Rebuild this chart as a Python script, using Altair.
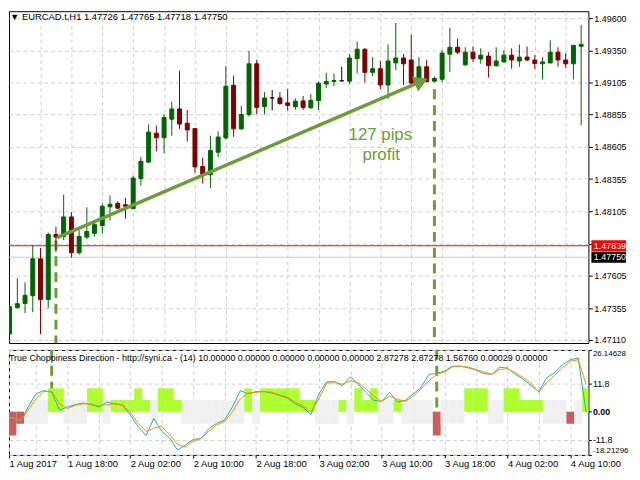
import json
import altair as alt
import pandas as pd

# ---------------- data ----------------
bars = list(range(75))  # hourly bars, 1 Aug 2017 10:00 ... 4 Aug 2017 12:00

opens = [1.47157, 1.47361, 1.47393, 1.47453, 1.47738, 1.47423, 1.47926, 1.47911, 1.48062, 1.47785,
         1.47906, 1.47936, 1.47996, 1.48140, 1.48167, 1.48156, 1.48127, 1.48358, 1.48486, 1.48710,
         1.48675, 1.48818, 1.48897, 1.48786, 1.48746, 1.48452, 1.48388, 1.48562, 1.48673, 1.49080,
         1.48743, 1.48854, 1.49246, 1.48916, 1.48982, 1.48982, 1.48944, 1.48914, 1.48959, 1.48906,
         1.48961, 1.49090, 1.49110, 1.49115, 1.49112, 1.49286, 1.49359, 1.49180, 1.49208, 1.49082,
         1.49253, 1.49291, 1.49276, 1.49110, 1.49223, 1.49112, 1.49127, 1.49321, 1.49374, 1.49238,
         1.49336, 1.49283, 1.49306, 1.49231, 1.49261, 1.49313, 1.49268, 1.49298, 1.49276, 1.49246,
         1.49253, 1.49336, 1.49276, 1.49246, 1.49381]
highs = [1.47383, 1.47587, 1.47557, 1.47841, 1.47821, 1.47941, 1.47986, 1.48235, 1.48100, 1.47959,
         1.48137, 1.48029, 1.48167, 1.48228, 1.48182, 1.48210, 1.48381, 1.48527, 1.48778, 1.48768,
         1.48854, 1.48952, 1.49193, 1.48889, 1.48750, 1.48520, 1.48690, 1.48725, 1.49228, 1.49155,
         1.48921, 1.49346, 1.49278, 1.49027, 1.49042, 1.49027, 1.49050, 1.48978, 1.48997, 1.49012,
         1.49108, 1.49176, 1.49170, 1.49223, 1.49321, 1.49419, 1.49366, 1.49298, 1.49268, 1.49396,
         1.49562, 1.49321, 1.49472, 1.49298, 1.49276, 1.49148, 1.49351, 1.49525, 1.49442, 1.49374,
         1.49381, 1.49366, 1.49336, 1.49374, 1.49351, 1.49366, 1.49396, 1.49381, 1.49313, 1.49298,
         1.49427, 1.49374, 1.49329, 1.49389, 1.49547]
lows = [1.47149, 1.47353, 1.47318, 1.47325, 1.47157, 1.47355, 1.47790, 1.47883, 1.47747, 1.47770,
        1.47891, 1.47911, 1.47934, 1.48034, 1.48122, 1.48049, 1.48122, 1.48305, 1.48480, 1.48569,
        1.48554, 1.48690, 1.48743, 1.48645, 1.48403, 1.48320, 1.48286, 1.48524, 1.48660, 1.48682,
        1.48735, 1.48838, 1.48854, 1.48854, 1.48886, 1.48929, 1.48886, 1.48891, 1.48889, 1.48899,
        1.48889, 1.49059, 1.49074, 1.49108, 1.49090, 1.49172, 1.49102, 1.49150, 1.49052, 1.48976,
        1.49195, 1.49082, 1.49090, 1.49072, 1.49102, 1.49102, 1.49105, 1.49185, 1.49321, 1.49230,
        1.49261, 1.49246, 1.49140, 1.49225, 1.49255, 1.49208, 1.49223, 1.49268, 1.49208, 1.49125,
        1.49250, 1.49223, 1.49215, 1.49125, 1.48771]
closes = [1.47368, 1.47391, 1.47456, 1.47738, 1.47423, 1.47926, 1.47906, 1.48062, 1.47785, 1.47911,
          1.47949, 1.48002, 1.48145, 1.48160, 1.48130, 1.48145, 1.48363, 1.48492, 1.48718, 1.48675,
          1.48831, 1.48897, 1.48780, 1.48735, 1.48449, 1.48394, 1.48575, 1.48680, 1.49072, 1.48743,
          1.48854, 1.49246, 1.48909, 1.48982, 1.48982, 1.48939, 1.48924, 1.48957, 1.48909, 1.48964,
          1.49095, 1.49110, 1.49117, 1.49115, 1.49291, 1.49359, 1.49180, 1.49208, 1.49082, 1.49268,
          1.49291, 1.49246, 1.49097, 1.49223, 1.49110, 1.49133, 1.49329, 1.49374, 1.49336, 1.49336,
          1.49286, 1.49313, 1.49233, 1.49268, 1.49313, 1.49276, 1.49298, 1.49276, 1.49248, 1.49261,
          1.49336, 1.49276, 1.49246, 1.49389, 1.49396]

teal_line = [-2.07, -2.77, -4.55, 2.07, 7.56, 8.97, 8.26, 0.70, 2.07, 3.02,
             3.72, 3.02, 2.07, 4.13, 3.43, 2.77, -1.36, -6.20, -10.04, -2.77,
             -8.26, -11.03, -16.12, -14.05, -11.69, -11.28, -7.15, -4.83, -3.43, 2.07,
             8.97, 7.56, 8.55, 8.55, 7.98, 6.90, 5.79, 3.43, 1.78, -1.12,
             7.56, 12.69, 12.69, 11.03, 14.75, 11.69, 8.26, 4.83, 4.42, 8.26,
             4.13, 4.83, 7.56, 10.33, 15.83, 16.24, 17.23, 19.30, 19.30, 18.60,
             17.64, 16.12, 15.83, 18.88, 18.47, 15.83, 13.76, 11.03, 8.55, 14.46,
             16.53, 19.96, 22.02, 22.73, 0.00]
orange_line = [-2.07, -2.48, -3.72, 0.70, 5.50, 8.55, 8.68, 3.43, 1.36, 2.77,
               3.43, 3.31, 2.48, 3.02, 3.43, 3.02, -0.29, -4.83, -8.26, -6.90,
               -6.20, -9.63, -13.76, -14.88, -12.40, -11.28, -8.26, -5.50, -4.13, 0.00,
               5.50, 7.98, 8.26, 8.55, 8.26, 7.15, 6.20, 4.13, 2.48, 0.00,
               5.50, 12.11, 12.40, 11.69, 13.10, 12.40, 9.63, 6.61, 4.42, 6.61,
               5.25, 4.42, 6.61, 9.63, 13.10, 15.83, 16.82, 19.01, 19.30, 18.88,
               17.89, 16.82, 15.83, 17.89, 18.18, 16.53, 14.46, 12.11, 8.26, 12.40,
               15.41, 18.60, 21.36, 22.02, 11.69]

# histogram: G = up (green), R = down (red), N = neutral (grey, both sides)
hist_codes = ["R10", "R10", "R5", "N", "N", "N", "G10", "G10", "N", "N",
              "N", "G10", "G10", "N", "G5", "G5", "G5", "G10", "G5", "N",
              "G10", "G10", "G5", "N", "N", "N", "N", "N", "N", "N",
              "N", "G10", "N", "G10", "G10", "G10", "G10", "G10", "G5", "G5",
              "N", "N", "N", "G5", "N", "G10", "G5", "G10", "N", "N",
              "G5", "N", "N", "N", "N", "R10", "N", "N", "N", "G10",
              "G10", "G10", "N", "N", "G10", "G10", "G5", "G5", "G5", "N",
              "N", "N", "R5", "N", "G10"]

x_labels = ["1 Aug 2017", "1 Aug 18:00", "2 Aug 02:00", "2 Aug 10:00", "2 Aug 18:00",
            "3 Aug 02:00", "3 Aug 10:00", "3 Aug 18:00", "4 Aug 02:00", "4 Aug 10:00"]
grid_bars = list(range(4, 73, 4))
price_ticks = [1.49600, 1.49350, 1.49105, 1.48855, 1.48605, 1.48355, 1.48105,
               1.47855, 1.47605, 1.47355, 1.47110]
hidden_price_tick = 1.47855
ind_ticks = [26.14628, 11.8, 0.0, -11.8, -18.21296]

level_prices = [1.47839, 1.47750]
level_kinds = ["line", "bid"]

arrow_bars = [6.15, 53.31]
arrow_prices = [1.47902, 1.49110]
marker_bars = [6, 55]
marker_prices = [1.47880, 1.49049]
note_text = ["127 pips", "profit"]
note_bars = [48.0, 48.1]
note_prices = [1.48695, 1.48544]

header = "\u25BC EURCAD.t,H1  1.47726 1.47765 1.47718 1.47750"
ind_title = ("True Choppiness Direction - http://syni.ca - (14) 10.00000 0.00000 0.00000 "
             "0.00000 0.00000 2.87278 2.87278 1.56760 0.00029 0.00000")

# ---------------- layout & style ----------------
MAIN_W, MAIN_H, IND_H = 585, 335, 106
X_LO, X_HI = 0.5625, 74.3
P_LO, P_HI = 1.47087, 1.49653
I_LO, I_HI = -18.21296, 26.14628

GREEN, RED = "#006400", "#800000"
OLIVE = "#6b9d3b"
GRID = "#cfcfcf"
FS = 9

xs = alt.Scale(domain=[X_LO, X_HI], nice=False, zero=False)
ys = alt.Scale(domain=[P_LO, P_HI], nice=False, zero=False)
iys = alt.Scale(domain=[I_LO, I_HI], nice=False, zero=False)

candles = pd.DataFrame({"k": bars, "open": opens, "high": highs, "low": lows, "close": closes})
levels = pd.DataFrame({"price": level_prices, "kind": level_kinds})
arrow = pd.DataFrame({"k": arrow_bars, "price": arrow_prices})
head = arrow.tail(1)
markers = pd.DataFrame({"k": marker_bars, "top": marker_prices})
notes = pd.DataFrame({"k": note_bars, "price": note_prices, "t": note_text})
ind = pd.DataFrame({"k": bars, "teal": teal_line, "orange": orange_line, "code": hist_codes})

# ---------------- main price panel ----------------
x_axis_main = alt.Axis(values=grid_bars, tickCount=200, grid=True, gridDash=[4, 3],
                       gridColor=GRID, labels=False, ticks=False, domain=False, title=None)
y_axis_main = alt.Axis(orient="right", values=price_ticks, tickCount=200, grid=True,
                       gridDash=[4, 3], gridColor=GRID, tickSize=4, tickColor="black",
                       domain=False, labelPadding=1.5, labelFontSize=FS, labelColor="black",
                       labelOverlap=False, title=None,
                       labelExpr=f"abs(datum.value - {hidden_price_tick}) < 0.0000001 ? '' : format(datum.value, '.5f')")

cscale = alt.Scale(domain=["up", "down", "doji"], range=[GREEN, RED, "#000000"])
dir_expr = "datum.close > datum.open ? 'up' : (datum.close < datum.open ? 'down' : 'doji')"
cbase = alt.Chart(candles).transform_calculate(dir=dir_expr)

level_lines = alt.Chart(levels).mark_rule(strokeWidth=1).encode(
    y=alt.Y("price:Q", scale=ys),
    color=alt.condition("datum.kind == 'line'", alt.value("#ff0000"), alt.value("#c8c8c8")),
)
dashed_main = alt.Chart(markers).transform_calculate(bottom=f"{P_LO}").mark_rule(
    strokeWidth=3, strokeDash=[10, 6], color=OLIVE, clip=True).encode(
    x=alt.X("k:Q", scale=xs), y=alt.Y("top:Q", scale=ys), y2="bottom:Q")
wicks = cbase.mark_rule(strokeWidth=1, clip=True).encode(
    x=alt.X("k:Q", scale=xs, axis=x_axis_main),
    y=alt.Y("low:Q", scale=ys, axis=y_axis_main),
    y2="high:Q",
    color=alt.Color("dir:N", scale=cscale, legend=None),
)
bodies = cbase.mark_bar(size=4, strokeWidth=1, clip=True).encode(
    x=alt.X("k:Q", scale=xs),
    y=alt.Y("open:Q", scale=ys),
    y2="close:Q",
    color=alt.Color("dir:N", scale=cscale, legend=None),
    stroke=alt.Stroke("dir:N", scale=cscale, legend=None),
)
arrow_line = alt.Chart(arrow).mark_line(strokeWidth=3.5, color=OLIVE).encode(
    x=alt.X("k:Q", scale=xs), y=alt.Y("price:Q", scale=ys))
arrow_head = alt.Chart(head).mark_point(shape="triangle-up", angle=67, size=260, filled=True,
                                        color=OLIVE, opacity=1, strokeWidth=0).encode(
    x=alt.X("k:Q", scale=xs), y=alt.Y("price:Q", scale=ys))
note_txt = alt.Chart(notes).mark_text(fontSize=17, color=OLIVE, baseline="middle").encode(
    x=alt.X("k:Q", scale=xs), y=alt.Y("price:Q", scale=ys), text="t:N")
header_txt = alt.Chart(pd.DataFrame({"t": [header]})).mark_text(
    align="left", baseline="top", fontSize=9.5, color="black").encode(
    x=alt.value(1), y=alt.value(1), text="t:N")
boxes = alt.Chart(levels).mark_rule(strokeWidth=11).encode(
    y=alt.Y("price:Q", scale=ys),
    x=alt.value(MAIN_W + 3), x2=alt.value(MAIN_W + 38),
    color=alt.condition("datum.kind == 'line'", alt.value("#ff0000"), alt.value("#000000")),
)
box_txt = alt.Chart(levels).mark_text(align="left", baseline="middle", fontSize=FS,
                                      color="white").encode(
    y=alt.Y("price:Q", scale=ys), x=alt.value(MAIN_W + 5.5),
    text=alt.Text("price:Q", format=".5f"))

main = alt.layer(level_lines, dashed_main, wicks, bodies, arrow_line, arrow_head,
                 note_txt, header_txt, boxes, box_txt).properties(width=MAIN_W, height=MAIN_H)

# ---------------- indicator panel ----------------
lab_arr = json.dumps(x_labels)
x_vals_ind = [X_LO] + grid_bars
tick_test = "datum.value < 1 || datum.value % 8 == 0"
x_axis_ind = alt.Axis(values=x_vals_ind, tickCount=200, grid=True, gridDash=[4, 3],
                      gridColor=GRID, tickSize=3, tickColor="black",
                      tickOpacity={"condition": {"test": tick_test, "value": 1}, "value": 0},
                      domain=False, labelAlign="left", labelFontSize=9.5, labelPadding=1,
                      labelColor="black", labelFlush=False, labelOverlap=False, labelBound=False,
                      title=None,
                      labelExpr=f"({tick_test}) ? {lab_arr}[round(datum.value / 8)] : ''")
y_axis_ind = alt.Axis(orient="right", values=ind_ticks, tickCount=200, grid=True,
                      gridDash=[4, 3], gridColor=GRID, tickSize=3, tickColor="black",
                      domain=False, labelPadding=1, labelColor="black",
                      labelFontSize={"condition": {"test": "abs(datum.value) > 15", "value": 8},
                                     "value": FS},
                      labelFlush=True, labelOverlap=False, title=None,
                      labelFontWeight={"condition": {"test": "datum.value == 0", "value": "bold"},
                                       "value": "normal"},
                      labelExpr="datum.value == 0 ? '0.00' : '' + datum.value")

hscale = alt.Scale(domain=["G", "R", "N"], range=["#adff2f", "#cd5c5c", "#f0f0f0"])
ibase = alt.Chart(ind)

dashed_ind = alt.Chart(markers).transform_calculate(t=f"{I_HI}", z="0").mark_rule(
    strokeWidth=3, strokeDash=[10, 6], color=OLIVE, clip=True).encode(
    x=alt.X("k:Q", scale=xs), y=alt.Y("t:Q", scale=iys), y2="z:Q")
hist = ibase.transform_calculate(
    d="substring(datum.code, 0, 1)",
    mag="datum.code == 'N' ? 5 : toNumber(substring(datum.code, 1))",
).transform_calculate(
    lo="datum.d == 'G' ? 0 : -datum.mag",
    hi="datum.d == 'R' ? 0 : datum.mag",
    x1="datum.k - 0.5",
    x2="datum.k + 0.5",
).mark_rect(clip=True).encode(
    x=alt.X("x1:Q", scale=xs, axis=x_axis_ind),
    x2="x2:Q",
    y=alt.Y("lo:Q", scale=iys, axis=y_axis_ind),
    y2="hi:Q",
    color=alt.Color("d:N", scale=hscale, legend=None),
)
teal_l = ibase.mark_line(strokeWidth=1, color="#20b2aa", clip=True).encode(
    x=alt.X("k:Q", scale=xs), y=alt.Y("teal:Q", scale=iys))
orange_l = ibase.mark_line(strokeWidth=1, color="#ff8c00", clip=True).encode(
    x=alt.X("k:Q", scale=xs), y=alt.Y("orange:Q", scale=iys))
title_txt = alt.Chart(pd.DataFrame({"t": [ind_title]})).mark_text(
    align="left", baseline="middle", fontSize=9, color="black", clip=True).encode(
    x=alt.value(0), y=alt.value(8.5), text="t:N")

indicator = alt.layer(dashed_ind, hist, teal_l, orange_l, title_txt).properties(
    width=MAIN_W, height=IND_H)

chart = alt.vconcat(main, indicator, spacing=3).resolve_scale(
    color="independent", stroke="independent").properties(padding=0).configure(
    font="Liberation Sans", padding=0).configure_view(stroke="black", strokeWidth=1)

chart.save("out.html", embed_options={"renderer": "svg", "actions": False})
